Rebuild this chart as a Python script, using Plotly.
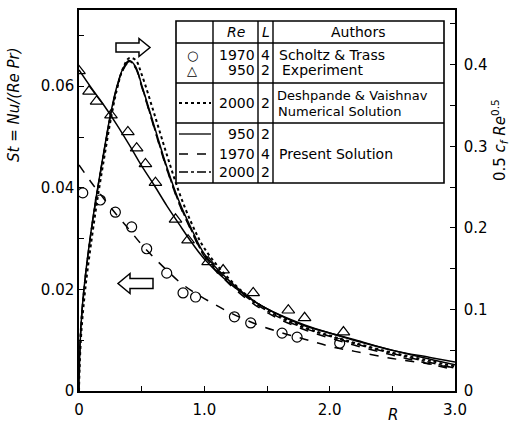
import plotly.graph_objects as go

# ---------------- data ----------------
# Experiment (Scholtz & Trass), Stanton number, left axis
R_exp_1970 = [0.03, 0.17, 0.29, 0.42, 0.54, 0.70, 0.83, 0.93, 1.24, 1.37, 1.62, 1.74, 2.08]
St_exp_1970 = [0.039, 0.0376, 0.0352, 0.0323, 0.0280, 0.0232, 0.0193, 0.0185, 0.0146, 0.0134, 0.0114, 0.0106, 0.0094]
R_exp_950 = [0.0, 0.08, 0.14, 0.255, 0.39, 0.46, 0.53, 0.61, 0.77, 0.87, 1.03, 1.15, 1.39, 1.67, 1.80, 2.11]
St_exp_950 = [0.063, 0.059, 0.057, 0.0543, 0.051, 0.0478, 0.0447, 0.041, 0.0338, 0.0297, 0.0254, 0.0238, 0.0193, 0.0159, 0.0144, 0.0116]

# Present solution, Stanton number (left axis)
R_st = [0, 0.1, 0.2, 0.3, 0.4, 0.5, 0.6, 0.7, 0.8, 0.9, 1.0, 1.2, 1.4, 1.6, 1.8, 2.0, 2.2, 2.5, 2.8, 3.0]
St_950 = [0.0632, 0.0596, 0.0562, 0.0525, 0.0485, 0.0443, 0.0405, 0.0365, 0.0328, 0.0292, 0.0260, 0.0212, 0.0176, 0.0150, 0.0130, 0.0114, 0.0101, 0.0080, 0.0066, 0.0057]
St_1970 = [0.0445, 0.0410, 0.0378, 0.0347, 0.0318, 0.0288, 0.0262, 0.0238, 0.0215, 0.0197, 0.0182, 0.0155, 0.0133, 0.0116, 0.0102, 0.0088, 0.0078, 0.0064, 0.0053, 0.0046]

# Friction coefficient 0.5 cf Re^0.5 (right axis)
R_cf = [0, 0.005, 0.02, 0.05, 0.1, 0.15, 0.2, 0.25, 0.3, 0.35, 0.4, 0.45, 0.5, 0.6, 0.7, 0.8, 0.9, 1.0,
        1.2, 1.4, 1.6, 1.8, 2.0, 2.2, 2.5, 2.8, 3.0]
cf_950 = [0, 0.040, 0.090, 0.140, 0.200, 0.250, 0.295, 0.338, 0.372, 0.395, 0.405, 0.398, 0.375, 0.325, 0.275,
          0.232, 0.198, 0.168, 0.135, 0.110, 0.093, 0.080, 0.071, 0.062, 0.050, 0.039, 0.032]
cf_1970 = [0, 0.038, 0.088, 0.138, 0.198, 0.248, 0.293, 0.336, 0.370, 0.393, 0.403, 0.396, 0.373, 0.322, 0.272,
           0.229, 0.195, 0.165, 0.131, 0.106, 0.088, 0.075, 0.065, 0.056, 0.044, 0.033, 0.026]
cf_2000 = [0.03, 0.050, 0.092, 0.140, 0.199, 0.249, 0.294, 0.337, 0.371, 0.394, 0.404, 0.397, 0.374, 0.323, 0.273,
           0.230, 0.196, 0.166, 0.133, 0.108, 0.090, 0.077, 0.067, 0.058, 0.046, 0.035, 0.028]
cf_desh = [0, 0.030, 0.075, 0.125, 0.185, 0.238, 0.285, 0.330, 0.368, 0.395, 0.408, 0.406, 0.388, 0.340, 0.290,
           0.243, 0.205, 0.175, 0.137, 0.110, 0.092, 0.078, 0.068, 0.059, 0.047, 0.037, 0.030]

x_tickvals = [0, 0.5, 1.0, 1.5, 2.0, 2.5, 3.0]
x_ticktext = ["0", " ", "1.0", " ", "2.0", " ", "3.0"]
yl_tickvals = [0, 0.01, 0.02, 0.03, 0.04, 0.05, 0.06, 0.07]
yl_ticktext = ["0", " ", "0.02", " ", "0.04", " ", "0.06", " "]
yr_tickvals = [0, 0.05, 0.1, 0.15, 0.2, 0.25, 0.3, 0.35, 0.4, 0.45]
yr_ticktext = ["0", " ", "0.1", " ", "0.2", " ", "0.3", " ", "0.4", " "]

# ---------------- figure ----------------
W, H = 515, 425
L, R_, T, B = 79, 60, 10, 34
PW, PH = W - L - R_, H - T - B
FONT = "DejaVu Sans"
BLK = "black"


def px(x):
    return (x - L) / PW


def py(y):
    return (H - B - y) / PH


fig = go.Figure()

line_w = 1.5
fig.add_trace(go.Scatter(x=R_cf, y=cf_desh, yaxis="y2", mode="lines",
                         line=dict(color=BLK, width=2.0, dash="dot", shape="spline")))
fig.add_trace(go.Scatter(x=R_cf, y=cf_950, yaxis="y2", mode="lines",
                         line=dict(color=BLK, width=line_w, shape="spline")))
fig.add_trace(go.Scatter(x=R_cf, y=cf_1970, yaxis="y2", mode="lines",
                         line=dict(color=BLK, width=line_w, dash="dash", shape="spline")))
fig.add_trace(go.Scatter(x=R_cf, y=cf_2000, yaxis="y2", mode="lines",
                         line=dict(color=BLK, width=line_w, dash="dashdot", shape="spline")))

fig.add_trace(go.Scatter(x=R_st, y=St_950, mode="lines",
                         line=dict(color=BLK, width=line_w, shape="spline")))
fig.add_trace(go.Scatter(x=R_st, y=St_1970, mode="lines",
                         line=dict(color=BLK, width=line_w, dash="dash", shape="spline")))
fig.add_trace(go.Scatter(x=R_exp_1970, y=St_exp_1970, mode="markers",
                         marker=dict(symbol="circle-open", size=10, color=BLK, line=dict(width=1.2))))
fig.add_trace(go.Scatter(x=R_exp_950, y=St_exp_950, mode="markers",
                         marker=dict(symbol="triangle-up-open", size=11, color=BLK, line=dict(width=1.2))))

axis_common = dict(showgrid=False, zeroline=False, showline=True, linecolor=BLK, linewidth=1.5,
                   ticks="inside", ticklen=5, tickcolor=BLK, tickwidth=1.2, automargin=False,
                   tickfont=dict(family=FONT, size=15, color=BLK))

fig.update_layout(
    width=W, height=H, margin=dict(l=L, r=R_, t=T, b=B, autoexpand=False),
    paper_bgcolor="white", plot_bgcolor="white", showlegend=False,
    font=dict(family=FONT, color=BLK),
    xaxis=dict(range=[0, 3.0], tickvals=x_tickvals, ticktext=x_ticktext, mirror=True,
               ticklabelstandoff=4, **axis_common),
    yaxis=dict(range=[0, 0.075], tickvals=yl_tickvals, ticktext=yl_ticktext, **axis_common),
    yaxis2=dict(range=[0, 0.467], tickvals=yr_tickvals, ticktext=yr_ticktext, overlaying="y",
                side="right", ticklabelstandoff=4, **axis_common),
)

shapes = []
# table
tx0, tx1, ty0, ty1 = 176, 444, 21, 183
shapes.append(dict(type="rect", xref="paper", yref="paper", x0=px(tx0), x1=px(tx1), y0=py(ty1), y1=py(ty0),
                   line=dict(color=BLK, width=1.6), fillcolor="white", layer="above"))
for yy in [43, 83, 123]:
    shapes.append(dict(type="line", xref="paper", yref="paper", x0=px(tx0), x1=px(tx1), y0=py(yy), y1=py(yy),
                       line=dict(color=BLK, width=1.4)))
for xx in [213, 258, 273]:
    shapes.append(dict(type="line", xref="paper", yref="paper", x0=px(xx), x1=px(xx), y0=py(ty0), y1=py(ty1),
                       line=dict(color=BLK, width=1.4)))
# legend line samples
for yy, dash, w in [(103, "dot", 1.8), (134, "solid", 1.3), (154, "dash", 1.3), (172, "dashdot", 1.3)]:
    shapes.append(dict(type="line", xref="paper", yref="paper", x0=px(179), x1=px(211), y0=py(yy), y1=py(yy),
                       line=dict(color=BLK, width=w, dash=dash)))


def arrow_path(pts):
    return "M " + " L ".join(f"{px(a):.5f},{py(b):.5f}" for a, b in pts) + " Z"


# right-pointing hollow arrow
ra = [(116, 43), (139, 43), (139, 38.5), (150, 47.5), (139, 56.5), (139, 52), (116, 52)]
# left-pointing hollow arrow
la = [(153, 278.5), (130, 278.5), (130, 273.5), (118, 283.5), (130, 293.5), (130, 288.5), (153, 288.5)]
for pts in (ra, la):
    shapes.append(dict(type="path", xref="paper", yref="paper", path=arrow_path(pts),
                       line=dict(color=BLK, width=1.5), fillcolor="white"))
fig.update_layout(shapes=shapes)

ann = []


def txt(x, y, s, size=14, xanchor="center", angle=0):
    ann.append(dict(x=px(x), y=py(y), xref="paper", yref="paper", text=s, showarrow=False,
                    xanchor=xanchor, yanchor="middle", textangle=angle,
                    font=dict(family=FONT, size=size, color=BLK)))


txt(235.5, 32, "<i>Re</i>")
txt(265.5, 32, "<i>L</i>")
txt(358, 32, "Authors")
txt(192, 55, "○", size=13)
txt(192, 70, "△", size=13)
for yy, re_, l_ in [(55, "1970", "4"), (70, "950", "2"), (103, "2000", "2"),
                    (134, "950", "2"), (154, "1970", "4"), (172, "2000", "2")]:
    txt(257, yy, re_, xanchor="right")
    txt(265.5, yy, l_)
txt(277, 55, "Scholtz & Trass", xanchor="left")
txt(280, 70, "Experiment", xanchor="left")
txt(275, 95, "Deshpande & Vaishnav", size=13, xanchor="left")
txt(276, 111, "Numerical Solution", size=13, xanchor="left")
txt(277, 154, "Present Solution", xanchor="left")

# axis titles
txt(14, 105, "<i>St = Nu/(Re Pr)</i>", size=15, angle=-90)
txt(499, 140, "0.5 <i>c<sub>f</sub> Re</i><sup>0.5</sup>", size=15, angle=-90)
txt(393, 415, "<i>R</i>", size=15)

fig.update_layout(annotations=ann)

fig.write_html("out.html")
